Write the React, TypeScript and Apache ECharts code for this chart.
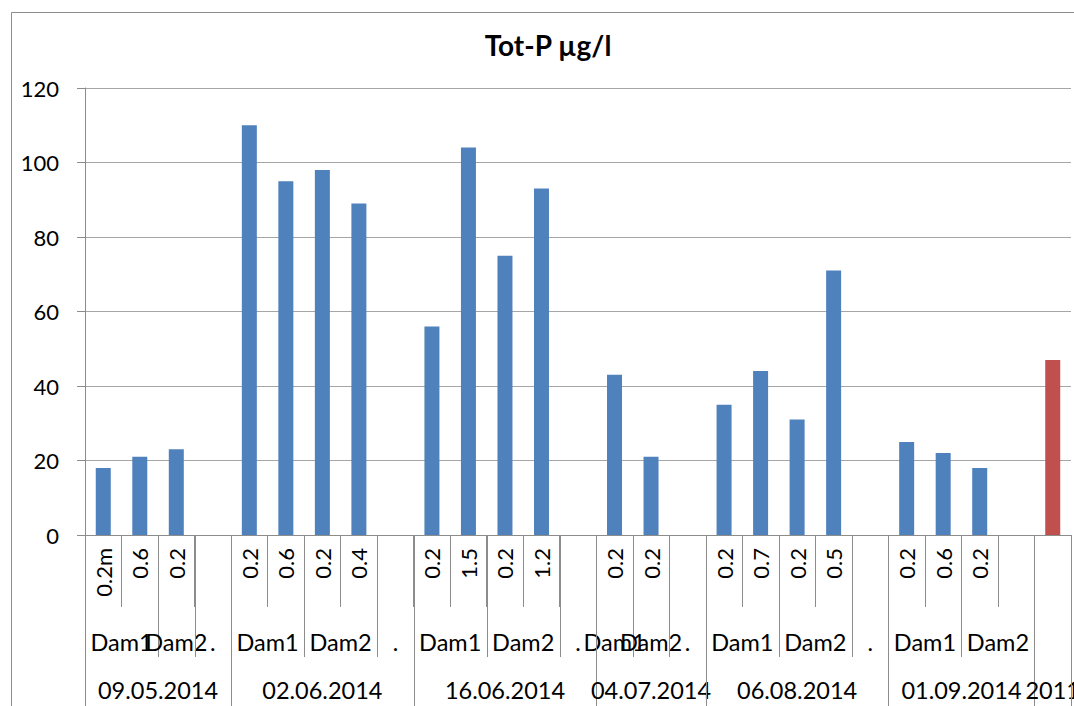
import React, { useEffect, useRef } from "react";
import * as echarts from "echarts";

const depthLabels = [
  "0.2m", "0.6", "0.2", "",
  "0.2", "0.6", "0.2", "0.4", "",
  "0.2", "1.5", "0.2", "1.2", "",
  "0.2", "0.2", "",
  "0.2", "0.7", "0.2", "0.5", "",
  "0.2", "0.6", "0.2", "",
  "",
];
const totP: (number | null)[] = [
  18, 21, 23, null,
  110, 95, 98, 89, null,
  56, 104, 75, 93, null,
  43, 21, null,
  35, 44, 31, 71, null,
  25, 22, 18, null,
  47,
];
const highlightIndex = 26;
const damLabels = [
  "Dam1", "Dam2", ".",
  "Dam1", "Dam2", ".",
  "Dam1", "Dam2", ".",
  "Dam1", "Dam2", ".",
  "Dam1", "Dam2", ".",
  "Dam1", "Dam2",
  "",
];
const damSpans = [2, 1, 1, 2, 2, 1, 2, 2, 1, 1, 1, 1, 2, 2, 1, 2, 2, 1];
const dateLabels = ["09.05.2014", "02.06.2014", "16.06.2014", "04.07.2014", "06.08.2014", "01.09.2014", "2011"];
const dateSpans = [4, 5, 5, 3, 5, 4, 1];
const yTicks = { min: 0, max: 120, interval: 20 };

const FONT = "Lato";
const BLUE = "#4F81BD";
const RED = "#C0504D";
const LINE = "#8C8C8C";

export default function App() {
  const ref = useRef<HTMLDivElement>(null);
  useEffect(() => {
    if (!ref.current) return;
    const chart = echarts.init(ref.current, undefined, { renderer: "svg" });
    chart.setOption({
      animation: false,
      grid: { left: 85, right: 3, top: 88, bottom: 171 },
      xAxis: {
        type: "category",
        data: depthLabels,
        axisLine: { show: true, lineStyle: { color: LINE } },
        axisTick: { show: true, interval: 0, length: 72, lineStyle: { color: LINE } },
        axisLabel: { interval: 0, rotate: 90, fontSize: 22, fontFamily: FONT, color: "#000", margin: 13 },
      },
      yAxis: {
        type: "value",
        min: yTicks.min,
        max: yTicks.max,
        interval: yTicks.interval,
        axisLine: { show: true, lineStyle: { color: LINE } },
        axisTick: { show: true, length: 8, lineStyle: { color: LINE } },
        axisLabel: { fontSize: 22, fontFamily: FONT, color: "#000", margin: 26 },
        splitLine: { lineStyle: { color: "#A6A6A6" } },
      },
      series: [
        {
          type: "bar",
          barWidth: 15,
          data: totP.map((v, i) =>
            v == null ? null : { value: v, itemStyle: { color: i === highlightIndex ? RED : BLUE } }
          ),
        },
      ],
    });

    const n = depthLabels.length;
    const c0 = chart.convertToPixel({ xAxisIndex: 0 }, 0) as number;
    const c1 = chart.convertToPixel({ xAxisIndex: 0 }, 1) as number;
    const half = (c1 - c0) / 2;
    const bx = (k: number) => {
      const c = chart.convertToPixel({ xAxisIndex: 0 }, Math.min(k, n - 1)) as number;
      return k < n ? c - half : c + half;
    };
    const y0 = chart.convertToPixel({ yAxisIndex: 0 }, 0) as number;
    const crisp = (x: number) => Math.round(x) + 0.5;
    const damBottom = y0 + 122;
    const dateBottom = 720;
    const damY = y0 + 107;
    const dateY = y0 + 155;

    const elements: any[] = [];
    const textEl = (text: string, x: number, y: number, size: number, bold = false) => ({
      type: "text",
      x,
      y,
      style: {
        text,
        fontSize: size,
        fontFamily: FONT,
        fontWeight: bold ? "bold" : "normal",
        fill: "#000",
        align: "center",
        verticalAlign: "middle",
        textAlign: "center",
        textVerticalAlign: "middle",
      },
    });
    const lineEl = (x: number, ya: number, yb: number) => ({
      type: "line",
      shape: { x1: crisp(x), y1: ya, x2: crisp(x), y2: yb },
      style: { stroke: LINE, lineWidth: 1 },
    });

    let k = 0;
    damLabels.forEach((lab, i) => {
      const s = damSpans[i];
      const xa = bx(k);
      const xb = bx(k + s);
      elements.push(lineEl(xa, y0, damBottom));
      if (lab) elements.push(textEl(lab, (xa + xb) / 2, damY, 23.5));
      k += s;
    });
    k = 0;
    dateLabels.forEach((lab, i) => {
      const s = dateSpans[i];
      const xa = bx(k);
      const xb = bx(k + s);
      elements.push(lineEl(xa, y0, dateBottom));
      elements.push(textEl(lab, (xa + xb) / 2, dateY, 23.5));
      k += s;
    });
    elements.push(lineEl(bx(n), y0, dateBottom));

    elements.push({
      type: "rect",
      shape: { x: 11.5, y: 12.5, width: 1200, height: 900 },
      style: { fill: "none", stroke: LINE, lineWidth: 1 },
      silent: true,
    });
    elements.push(textEl("Tot-P µg/l", 548, 45, 28, true));

    chart.setOption({ graphic: { elements } });
    return () => chart.dispose();
  }, []);
  return (
    <div
      ref={ref}
      style={{ position: "fixed", left: 0, top: 0, width: 1074, height: 706, background: "#fff" }}
    />
  );
}
